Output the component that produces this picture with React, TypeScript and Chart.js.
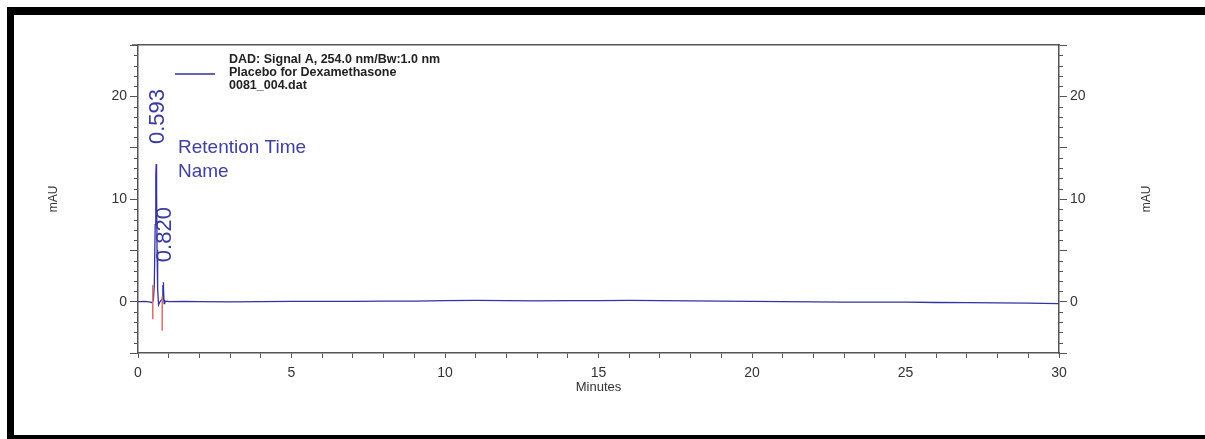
import React, { useEffect, useRef } from "react";
import { Chart, registerables } from "chart.js";

Chart.register(...registerables);

// ---- data ----
const TIME = [
  0, 0.1, 0.2, 0.3, 0.4, 0.45, 0.5, 0.53, 0.56, 0.58,
  0.593, 0.605, 0.62, 0.64, 0.67, 0.7, 0.74, 0.78, 0.8, 0.81,
  0.815, 0.82, 0.825, 0.83, 0.835, 0.84, 0.85, 0.87, 0.9, 0.95,
  1.0, 1.5,
  2, 3, 4, 5, 6, 7, 8, 9, 10, 11,
  12, 13, 14, 15, 16, 17, 18, 19, 20, 21,
  22, 23, 24, 25, 26, 27, 28, 29, 30,
];
const SIGNAL = [
  0, 0, 0.02, 0, -0.05, -0.1, 0.1, 1.5, 7.5, 12.2,
  13.4, 11, 5, 1.2, -0.3, -0.1, 0.1, 0.2, 0.4, 1.6,
  0.3, 1.9, 0.4, 1.7, 0.2, 1.3, -0.2, 0.1, 0, 0.05,
  0, 0.02,
  0, -0.02, 0, 0.02, 0.03, 0.02, 0.05, 0.06, 0.1, 0.12,
  0.1, 0.08, 0.1, 0.1, 0.12, 0.1, 0.08, 0.05, 0.02, 0,
  -0.02, -0.05, -0.05, -0.05, -0.08, -0.1, -0.12, -0.15, -0.2,
];
const PEAK_TIMES = [0.593, 0.82];
const PEAK_LABELS = ["0.593", "0.820"];
const MARKER_TIMES = [0.48, 0.79];
const MARKER_TOP = [1.6, 0.5];
const MARKER_BOTTOM = [-1.7, -2.8];
const Y_TICK_LABELS = [0, 10, 20];
const X_TICK_LABELS = [0, 5, 10, 15, 20, 25, 30];
const LEGEND_LINES = [
  "DAD: Signal A, 254.0 nm/Bw:1.0 nm",
  "Placebo for Dexamethasone",
  "0081_004.dat",
];
const ANNOTATION_LINES = ["Retention Time", "Name"];
const Y_TITLE = "mAU";
const X_TITLE = "Minutes";

const TRACE_COLOR = "#3232a0";
const MARKER_COLOR = "#e07070";
const AXIS_COLOR = "#555555";
const TEXT_COLOR = "#333333";
const FONT = "Arial, 'Liberation Sans', sans-serif";

export default function App() {
  const ref = useRef<HTMLCanvasElement | null>(null);

  useEffect(() => {
    if (!ref.current) return;

    const frame = {
      id: "frame",
      beforeDraw(chart: any) {
        const ctx = chart.ctx;
        ctx.save();
        ctx.fillStyle = "#ffffff";
        ctx.fillRect(0, 0, chart.width, chart.height);
        ctx.fillStyle = "#000000";
        ctx.fillRect(7, 7, chart.width - 7, 8);
        ctx.fillRect(7, 7, 7, chart.height - 7);
        ctx.fillRect(7, chart.height - 4, chart.width - 7, 4);
        ctx.restore();
      },
    };

    const extras = {
      id: "extras",
      afterDraw(chart: any) {
        const ctx = chart.ctx;
        const xs = chart.scales.x;
        const ys = chart.scales.y;
        const area = chart.chartArea;
        ctx.save();

        // minor ticks on both y axes
        ctx.strokeStyle = AXIS_COLOR;
        ctx.lineWidth = 1;
        for (let v = Math.ceil(ys.min); v <= ys.max; v++) {
          if (v % 5 === 0) continue;
          const py = Math.round(ys.getPixelForValue(v)) + 0.5;
          ctx.beginPath();
          ctx.moveTo(area.left - 4, py);
          ctx.lineTo(area.left, py);
          ctx.moveTo(area.right, py);
          ctx.lineTo(area.right + 4, py);
          ctx.stroke();
        }
        // top axis line slightly extended to the left
        ctx.strokeStyle = AXIS_COLOR;
        ctx.lineWidth = 1.5;
        ctx.beginPath();
        ctx.moveTo(area.left - 6, area.top);
        ctx.lineTo(area.left, area.top);
        ctx.stroke();

        // axis titles (both read bottom-to-top)
        ctx.fillStyle = TEXT_COLOR;
        ctx.font = `12px ${FONT}`;
        ctx.textAlign = "center";
        ctx.textBaseline = "middle";
        const cy = (area.top + area.bottom) / 2;
        [area.left - 84, area.right + 88].forEach((tx) => {
          ctx.save();
          ctx.translate(tx, cy);
          ctx.rotate(-Math.PI / 2);
          ctx.fillText(Y_TITLE, 0, 0);
          ctx.restore();
        });

        // legend block
        ctx.strokeStyle = TRACE_COLOR;
        ctx.lineWidth = 1.5;
        ctx.beginPath();
        ctx.moveTo(area.left + 37, area.top + 29);
        ctx.lineTo(area.left + 77, area.top + 29);
        ctx.stroke();
        ctx.fillStyle = "#222222";
        ctx.font = `bold 12.5px ${FONT}`;
        ctx.textAlign = "left";
        LEGEND_LINES.forEach((t, i) => {
          ctx.fillText(t, area.left + 91, area.top + 15 + i * 13);
        });

        // annotation labels
        ctx.fillStyle = "#4040a0";
        ctx.font = `19px ${FONT}`;
        ANNOTATION_LINES.forEach((t, i) => {
          ctx.fillText(t, area.left + 40, area.top + 103 + i * 24);
        });

        // peak labels, rotated
        ctx.font = `22px ${FONT}`;
        ctx.fillStyle = "#3a3aa0";
        PEAK_TIMES.forEach((pt, i) => {
          let peak = -Infinity;
          TIME.forEach((t, k) => {
            if (Math.abs(t - pt) <= 0.03 && SIGNAL[k] > peak) peak = SIGNAL[k];
          });
          const px = xs.getPixelForValue(pt) + 1.5;
          const py = ys.getPixelForValue(peak) - 20;
          ctx.save();
          ctx.translate(px, py);
          ctx.rotate(-Math.PI / 2);
          ctx.textAlign = "left";
          ctx.textBaseline = "middle";
          ctx.fillText(PEAK_LABELS[i], 0, 0);
          ctx.restore();
        });

        ctx.restore();
      },
    };

    const yTicks = {
      stepSize: 5,
      autoSkip: false,
      color: TEXT_COLOR,
      font: { size: 14, family: FONT },
      padding: 3,
      callback: (v: any) => (Y_TICK_LABELS.includes(Number(v)) ? String(v) : ""),
    };

    const markerSets = MARKER_TIMES.map((t, i) => ({
      label: "marker" + i,
      data: [
        { x: t, y: MARKER_TOP[i] },
        { x: t, y: MARKER_BOTTOM[i] },
      ],
      borderColor: MARKER_COLOR,
      borderWidth: 1,
      pointRadius: 0,
      xAxisID: "x",
      yAxisID: "y",
    }));

    const chart = new Chart(ref.current, {
      type: "line",
      data: {
        datasets: [
          ...markerSets,
          {
            label: "Placebo for Dexamethasone",
            data: TIME.map((t, i) => ({ x: t, y: SIGNAL[i] })),
            borderColor: TRACE_COLOR,
            borderWidth: 1.3,
            pointRadius: 0,
            tension: 0,
            xAxisID: "x",
            yAxisID: "y",
          },
        ],
      },
      options: {
        animation: false,
        responsive: false,
        devicePixelRatio: 1,
        layout: { padding: { left: 14, right: 46, top: 45, bottom: 36 } },
        plugins: { legend: { display: false }, tooltip: { enabled: false } },
        scales: {
          x: {
            type: "linear",
            position: "bottom",
            min: 0,
            max: 30,
            ticks: {
              stepSize: 1,
              autoSkip: false,
              maxRotation: 0,
              color: TEXT_COLOR,
              font: { size: 14, family: FONT },
              padding: 7,
              callback: (v: any) => (X_TICK_LABELS.includes(Number(v)) ? String(v) : ""),
            },
            grid: { drawOnChartArea: false, tickLength: 5, color: AXIS_COLOR },
            border: { color: AXIS_COLOR, width: 1.5 },
            title: {
              display: true,
              text: X_TITLE,
              color: TEXT_COLOR,
              font: { size: 13, family: FONT },
              padding: { top: 0, bottom: 8 },
            },
            afterFit: (s: any) => {
              s.height = 50;
            },
          },
          x2: {
            type: "linear",
            position: "top",
            min: 0,
            max: 30,
            ticks: { display: false },
            grid: { display: false, drawTicks: false },
            border: { color: AXIS_COLOR, width: 1.5 },
            afterFit: (s: any) => {
              s.height = 0;
            },
          },
          y: {
            type: "linear",
            position: "left",
            min: -5,
            max: 25,
            ticks: yTicks,
            grid: { drawOnChartArea: false, tickLength: 8, color: AXIS_COLOR },
            border: { color: AXIS_COLOR, width: 1.5 },
            afterFit: (s: any) => {
              s.width = 124;
            },
          },
          y2: {
            type: "linear",
            position: "right",
            min: -5,
            max: 25,
            ticks: yTicks,
            grid: { drawOnChartArea: false, tickLength: 8, color: AXIS_COLOR },
            border: { color: AXIS_COLOR, width: 1.5 },
            afterFit: (s: any) => {
              s.width = 100;
            },
          },
        },
      },
      plugins: [frame, extras],
    } as any);

    return () => chart.destroy();
  }, []);

  return (
    <div style={{ position: "absolute", left: 0, top: 0, width: 1205, height: 439 }}>
      <canvas ref={ref} width={1205} height={439} style={{ display: "block" }} />
    </div>
  );
}
